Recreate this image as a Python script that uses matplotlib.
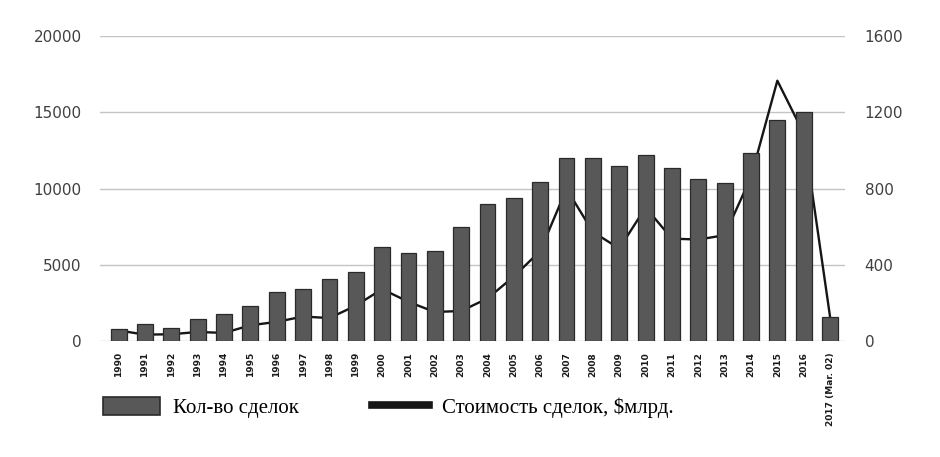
import matplotlib
matplotlib.use("Agg")
import matplotlib.pyplot as plt
from matplotlib.patches import Patch
from matplotlib.lines import Line2D

years = ["1990", "1991", "1992", "1993", "1994", "1995", "1996", "1997", "1998", "1999",
         "2000", "2001", "2002", "2003", "2004", "2005", "2006", "2007", "2008", "2009",
         "2010", "2011", "2012", "2013", "2014", "2015", "2016", "2017 (Mar. 02)"]

# количество сделок (левая ось)
deals = [770, 1110, 830, 1420, 1750, 2320, 3190, 3390, 4050, 4520,
         6140, 5750, 5900, 7490, 8980, 9350, 10400, 11970, 12000, 11470,
         12190, 11320, 10600, 10380, 12340, 14480, 14990, 1600]

# стоимость сделок, $млрд (правая ось)
value = [55, 33, 35, 47, 42, 82, 100, 128, 120, 185,
         272, 205, 152, 157, 223, 338, 472, 798, 572, 485,
         700, 537, 532, 555, 860, 1366, 1090, 127]

x = list(range(len(years)))

fig = plt.figure(figsize=(9.4, 4.57), dpi=100)
# нижняя ось - линия (шкала справа), верхняя - столбцы (шкала слева)
axl = fig.add_axes([0.106, 0.254, 0.793, 0.667])
axb = axl.twinx()
axl.yaxis.tick_right()
axb.yaxis.tick_left()

for yv in [0, 400, 800, 1200, 1600]:
    axl.axhline(yv, color="#c4c4c4", lw=1.0, zorder=1)
axl.plot(x, value, color="#161616", lw=1.7, zorder=2)
axb.bar(x, deals, width=0.6, color="#585858", edgecolor="#2a2a2a", linewidth=0.9, zorder=3)

axb.set_ylim(0, 20000)
axl.set_ylim(0, 1600)
axl.set_xlim(-0.72, 27.57)
axb.set_yticks([0, 5000, 10000, 15000, 20000])
axl.set_yticks([0, 400, 800, 1200, 1600])

for a in (axl, axb):
    for s in a.spines.values():
        s.set_visible(False)
    a.tick_params(axis="y", length=0, labelsize=11, labelcolor="#404040")

axb.tick_params(axis="y", pad=13)
axl.tick_params(axis="y", pad=14)

axl.set_xticks(x)
axl.set_xticklabels(years, rotation=90, fontsize=6.5, fontweight="bold",
                    color="#1a1a1a", va="top")
axl.tick_params(axis="x", length=0, pad=8)

handles = [Patch(facecolor="#585858", edgecolor="#2a2a2a", linewidth=1.2),
           Line2D([0], [0], color="#161616", lw=5.5)]
labels = ["Кол-во сделок", "Стоимость сделок, $млрд."]
fig.legend(handles, labels, loc="upper left", bbox_to_anchor=(0.110, 0.132),
           ncol=2, frameon=False, handlelength=2.74, handleheight=0.95,
           handletextpad=0.58, columnspacing=3.55, borderpad=0, borderaxespad=0,
           prop={"family": "Liberation Serif", "size": 15})

fig.savefig("out.png", dpi=100)
